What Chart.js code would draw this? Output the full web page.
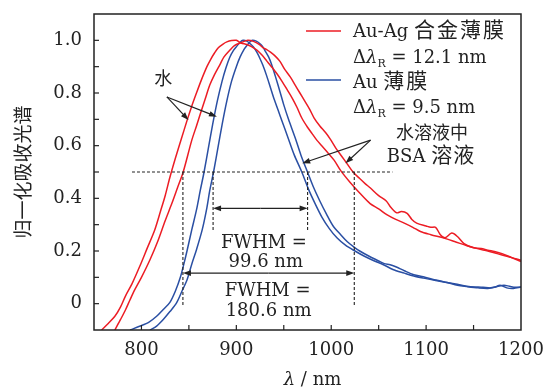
<!DOCTYPE html>
<html>
<head>
<meta charset="utf-8">
<script src="https://cdn.jsdelivr.net/npm/chart.js@4.4.1/dist/chart.umd.min.js"></script>
<style>
  html, body { margin: 0; padding: 0; background: #fff; }
  #wrap { width: 547px; height: 388px; position: relative; }
</style>
</head>
<body>
<div id="wrap"><canvas id="absChart"></canvas></div>
<script>
// Normalised absorption spectra, Au-Ag alloy film and Au film, in water and in BSA solution
const auAgWaterNm = [758, 765, 772, 778, 783, 790, 798, 806, 814, 820, 825, 830, 836, 842, 848, 853, 858, 863, 869, 873, 877, 881, 886, 890, 895, 900, 905, 911, 916, 922, 927, 932, 937, 943, 948, 954, 959, 964, 969, 975, 980, 985, 990, 996, 1003, 1010, 1020, 1030, 1041, 1050, 1059, 1068, 1077, 1086, 1094, 1105, 1119, 1130, 1143, 1155, 1165, 1175, 1185, 1193, 1200];
const auAgWaterAbs = [-0.1, -0.075, -0.048, -0.012, 0.028, 0.075, 0.14, 0.21, 0.28, 0.35, 0.41, 0.48, 0.555, 0.625, 0.695, 0.75, 0.8, 0.848, 0.9, 0.928, 0.952, 0.972, 0.986, 0.994, 0.999, 1.0, 0.99, 0.984, 0.976, 0.962, 0.944, 0.922, 0.9, 0.872, 0.845, 0.81, 0.78, 0.745, 0.705, 0.67, 0.645, 0.62, 0.6, 0.575, 0.545, 0.505, 0.46, 0.42, 0.38, 0.36, 0.337, 0.32, 0.306, 0.29, 0.274, 0.262, 0.249, 0.236, 0.22, 0.208, 0.2, 0.19, 0.18, 0.172, 0.165];

const auAgBsaNm = [772, 778, 783, 788, 793, 800, 809, 817, 825, 832, 838, 844, 853, 858, 862, 867, 872, 877, 883, 887, 893, 898, 904, 912, 918, 924, 928, 932, 936, 941, 946, 951, 957, 962, 967, 972, 977, 982, 988, 994, 999, 1005, 1011, 1017, 1023, 1030, 1036, 1041, 1050, 1058, 1063, 1069, 1074, 1080, 1085, 1090, 1100, 1105, 1110, 1115, 1120, 1127, 1133, 1140, 1150, 1158, 1165, 1172, 1180, 1190, 1200];
const auAgBsaAbs = [-0.1, -0.06, -0.025, 0.015, 0.053, 0.1, 0.167, 0.235, 0.315, 0.38, 0.44, 0.5, 0.62, 0.675, 0.72, 0.775, 0.83, 0.87, 0.91, 0.937, 0.962, 0.98, 0.99, 1.0, 0.996, 0.985, 0.972, 0.965, 0.955, 0.94, 0.92, 0.89, 0.86, 0.83, 0.8, 0.77, 0.74, 0.705, 0.675, 0.65, 0.625, 0.59, 0.56, 0.53, 0.5, 0.475, 0.455, 0.44, 0.41, 0.39, 0.365, 0.345, 0.35, 0.343, 0.32, 0.306, 0.295, 0.29, 0.29, 0.262, 0.25, 0.268, 0.255, 0.228, 0.212, 0.21, 0.203, 0.198, 0.19, 0.175, 0.16];

const auWaterNm = [788, 798, 808, 816, 823, 830, 836, 841, 845, 848, 853, 858, 862, 866, 871, 875, 880, 885, 889, 893, 897, 901, 904, 907, 911, 915, 918, 922, 925, 928, 932, 936, 940, 944, 948, 954, 961, 969, 976, 983, 990, 998, 1006, 1015, 1025, 1035, 1045, 1055, 1065, 1077, 1087, 1097, 1110, 1122, 1133, 1143, 1155, 1165, 1172, 1178, 1185, 1192, 1200];
const auWaterAbs = [-0.1, -0.086, -0.07, -0.048, -0.022, 0.005, 0.05, 0.1, 0.155, 0.2, 0.28, 0.356, 0.43, 0.5, 0.6, 0.68, 0.77, 0.845, 0.895, 0.935, 0.962, 0.98, 0.993, 1.0, 0.997, 0.986, 0.975, 0.952, 0.93, 0.905, 0.865, 0.82, 0.775, 0.735, 0.695, 0.635, 0.565, 0.5, 0.435, 0.38, 0.33, 0.285, 0.25, 0.222, 0.2, 0.18, 0.163, 0.148, 0.13, 0.116, 0.105, 0.097, 0.088, 0.08, 0.07, 0.065, 0.06, 0.058, 0.062, 0.07, 0.06, 0.058, 0.063];

const auBsaNm = [809, 816, 823, 830, 837, 843, 848, 853, 858, 864, 869, 872, 876, 881, 885, 890, 895, 900, 904, 908, 911, 914, 917, 921, 924, 927, 930, 934, 937, 941, 946, 950, 955, 962, 968, 975, 981, 988, 995, 1002, 1010, 1017, 1024, 1030, 1040, 1050, 1056, 1062, 1068, 1077, 1087, 1097, 1110, 1122, 1135, 1145, 1160, 1168, 1175, 1182, 1188, 1194, 1200];
const auBsaAbs = [-0.1, -0.085, -0.06, -0.03, 0.003, 0.05, 0.09, 0.15, 0.205, 0.28, 0.365, 0.43, 0.5, 0.6, 0.68, 0.77, 0.845, 0.9, 0.937, 0.965, 0.98, 0.993, 1.0, 0.997, 0.99, 0.98, 0.962, 0.937, 0.91, 0.865, 0.805, 0.755, 0.7, 0.63, 0.565, 0.5, 0.445, 0.39, 0.34, 0.295, 0.262, 0.235, 0.215, 0.2, 0.18, 0.162, 0.152, 0.148, 0.14, 0.125, 0.11, 0.102, 0.09, 0.08, 0.072, 0.065, 0.062, 0.06, 0.065, 0.07, 0.066, 0.062, 0.063];

// Half maximum and the FWHM edges (nm)
const halfMax = 0.5;
const auFwhmEdges = [875.5, 975.1];
const auAgFwhmEdges = [843.7, 1024.3];

const RED = '#ec1c24';
const BLUE = '#2a4fa3';
const INK = '#222';
const SERIF = '"DejaVu Serif", serif';
const CJK = '"Noto Sans CJK SC", sans-serif';

function pts(xs, ys) {
  return xs.map((x, i) => ({ x, y: ys[i] }));
}

function line(ctx, x0, y0, x1, y1) {
  ctx.beginPath();
  ctx.moveTo(x0, y0);
  ctx.lineTo(x1, y1);
  ctx.stroke();
}

function arrow(ctx, x0, y0, x1, y1) {
  const a = Math.atan2(y1 - y0, x1 - x0);
  const L = 8, W = 2.8;
  const c = Math.cos(a), s = Math.sin(a);
  line(ctx, x0, y0, x1 - c * L * 0.8, y1 - s * L * 0.8);
  ctx.beginPath();
  ctx.moveTo(x1, y1);
  ctx.lineTo(x1 - c * L + s * W, y1 - s * L - c * W);
  ctx.lineTo(x1 - c * L - s * W, y1 - s * L + c * W);
  ctx.closePath();
  ctx.fill();
}

// mixed-font text: runs of {t, f, dy, sp}
function runs(ctx, parts, x, y, align) {
  let total = 0;
  parts.forEach(p => {
    ctx.font = p.f;
    ctx.letterSpacing = (p.sp || 0) + 'px';
    p.w = ctx.measureText(p.t).width;
    total += p.w;
  });
  let cx = align === 'center' ? x - total / 2 : x;
  parts.forEach(p => {
    ctx.font = p.f;
    ctx.letterSpacing = (p.sp || 0) + 'px';
    ctx.fillText(p.t, cx, y + (p.dy || 0));
    cx += p.w;
  });
  ctx.letterSpacing = '0px';
}

const overlay = {
  id: 'overlay',
  afterDraw(chart) {
    const { ctx, chartArea: a, scales: { x, y } } = chart;
    const px = v => x.getPixelForValue(v);
    const py = v => y.getPixelForValue(v);
    ctx.save();
    ctx.strokeStyle = INK;
    ctx.fillStyle = INK;

    // frame and inward ticks
    ctx.lineWidth = 1.5;
    ctx.strokeRect(a.left, a.top, a.right - a.left, a.bottom - a.top);
    ctx.lineWidth = 1.2;
    x.ticks.forEach(t => {
      if (t.value <= x.min || t.value >= x.max) return;
      const p = px(t.value);
      line(ctx, p, a.bottom, p, a.bottom - 5);
    });
    y.ticks.forEach(t => {
      if (t.value <= y.min + 1e-6 || t.value >= y.max - 1e-6) return;
      const p = py(t.value);
      line(ctx, a.left, p, a.left + 5, p);
    });

    // half-maximum guide and FWHM edges
    ctx.lineWidth = 1.1;
    ctx.setLineDash([3, 2]);
    line(ctx, px(790), py(halfMax), px(1064.5), py(halfMax));
    auFwhmEdges.forEach(v => line(ctx, px(v), py(halfMax), px(v), py(0.275)));
    auAgFwhmEdges.forEach(v => line(ctx, px(v), py(halfMax), px(v), py(-0.01)));
    ctx.setLineDash([]);

    // FWHM double arrows
    ctx.lineWidth = 1.2;
    const au0 = px(auFwhmEdges[0]), au1 = px(auFwhmEdges[1]), auY = py(0.362);
    const mid = (au0 + au1) / 2;
    arrow(ctx, mid, auY, au0, auY);
    arrow(ctx, mid, auY, au1, auY);
    const ag0 = px(auAgFwhmEdges[0]), ag1 = px(auAgFwhmEdges[1]), agY = py(0.116);
    const mid2 = (ag0 + ag1) / 2;
    arrow(ctx, mid2, agY, ag0, agY);
    arrow(ctx, mid2, agY, ag1, agY);

    // pointers: water curves and BSA curves
    const wx = px(826.8), wy = py(0.785);
    arrow(ctx, wx, wy, px(849.6), py(0.697));
    arrow(ctx, wx, wy, px(879.6), py(0.71));
    const bx = px(1041.5), by = py(0.621);
    arrow(ctx, bx, by, px(969.4), py(0.533));
    arrow(ctx, bx, by, px(1015), py(0.533));

    // text labels
    ctx.textBaseline = 'alphabetic';
    const f18 = '18px ' + SERIF;
    runs(ctx, [{ t: 'FWHM =', f: f18 }], px(929), py(0.211), 'center');
    runs(ctx, [{ t: '99.6 nm', f: f18 }], px(931), py(0.141), 'center');
    runs(ctx, [{ t: 'FWHM =', f: f18 }], px(933), py(0.028), 'center');
    runs(ctx, [{ t: '180.6 nm', f: f18 }], px(934), py(-0.048), 'center');
    runs(ctx, [{ t: '水', f: '18px ' + CJK }], px(823), py(0.83), 'center');

    // legend
    const lx = a.right - 215, tx = a.right - 168;
    ctx.lineWidth = 1.5;
    ctx.strokeStyle = RED;
    line(ctx, lx, a.top + 17, lx + 35, a.top + 17);
    ctx.strokeStyle = BLUE;
    line(ctx, lx, a.top + 66, lx + 35, a.top + 66);
    const it = 'italic 18px ' + SERIF, sub = '11px ' + SERIF, cj = '21px ' + CJK;
    runs(ctx, [{ t: 'Au-Ag ', f: f18 }, { t: '合金薄膜', f: cj, sp: 2 }], tx, a.top + 23, 'left');
    runs(ctx, [{ t: 'Δ', f: f18 }, { t: 'λ', f: it }, { t: 'R', f: sub, dy: 4 }, { t: ' = 12.1 nm', f: f18 }], tx, a.top + 49, 'left');
    runs(ctx, [{ t: 'Au ', f: f18 }, { t: '薄膜', f: cj, sp: 2 }], tx, a.top + 74, 'left');
    runs(ctx, [{ t: 'Δ', f: f18 }, { t: 'λ', f: it }, { t: 'R', f: sub, dy: 4 }, { t: ' = 9.5 nm', f: f18 }], tx, a.top + 99, 'left');
    runs(ctx, [{ t: '水溶液中', f: '18px ' + CJK }], a.right - 89, a.top + 125, 'center');
    runs(ctx, [{ t: 'BSA ', f: f18 }, { t: '溶液', f: cj, sp: 1 }], a.right - 90, a.top + 148, 'center');

    // x axis title
    runs(ctx, [{ t: 'λ', f: it }, { t: ' / nm', f: f18 }], (a.left + a.right) / 2 + 5, 385, 'center');
    ctx.restore();
  }
};

const ctx = document.getElementById('absChart').getContext('2d');

new Chart(ctx, {
  type: 'scatter',
  data: {
    datasets: [
      { label: 'Au-Ag 合金薄膜 水', data: pts(auAgWaterNm, auAgWaterAbs), borderColor: RED },
      { label: 'Au-Ag 合金薄膜 BSA', data: pts(auAgBsaNm, auAgBsaAbs), borderColor: RED },
      { label: 'Au 薄膜 水', data: pts(auWaterNm, auWaterAbs), borderColor: BLUE },
      { label: 'Au 薄膜 BSA', data: pts(auBsaNm, auBsaAbs), borderColor: BLUE },
    ].map(d => Object.assign(d, {
      showLine: true,
      borderWidth: 1.5,
      pointRadius: 0,
      tension: 0.3,
      fill: false,
    })),
  },
  options: {
    responsive: true,
    maintainAspectRatio: false,
    animation: false,
    devicePixelRatio: 1,
    layout: { padding: { top: 14, right: 26, left: 0, bottom: 0 } },
    plugins: {
      legend: { display: false },
      tooltip: { enabled: false },
    },
    scales: {
      x: {
        type: 'linear',
        min: 750,
        max: 1200,
        grid: { display: false, drawTicks: false },
        border: { display: false },
        ticks: {
          stepSize: 50,
          padding: 10,
          color: INK,
          font: { family: SERIF, size: 18 },
          maxRotation: 0,
          autoSkip: false,
          callback: v => (v % 100 === 0 ? String(v) : ''),
        },
        afterFit: s => {
          s.height = 58;
          s.paddingLeft = 0;
          s.paddingRight = 0;
        },
      },
      y: {
        min: -0.1,
        max: 1.1,
        grid: { display: false, drawTicks: false },
        border: { display: false },
        ticks: {
          stepSize: 0.1,
          padding: 12,
          color: INK,
          font: { family: SERIF, size: 18 },
          autoSkip: false,
          callback: v => {
            const k = Math.round(v * 10);
            if (k < 0 || k % 2 !== 0 || k > 10) return '';
            return k === 0 ? '0' : (k / 10).toFixed(1);
          },
        },
        title: {
          display: true,
          text: '归一化吸收光谱',
          color: INK,
          font: { family: CJK, size: 19 },
          padding: { top: 11, bottom: 0 },
        },
        afterFit: s => {
          s.width = 94;
          s.paddingTop = 0;
          s.paddingBottom = 0;
        },
      },
    },
  },
  plugins: [overlay],
});
</script>
</body>
</html>
